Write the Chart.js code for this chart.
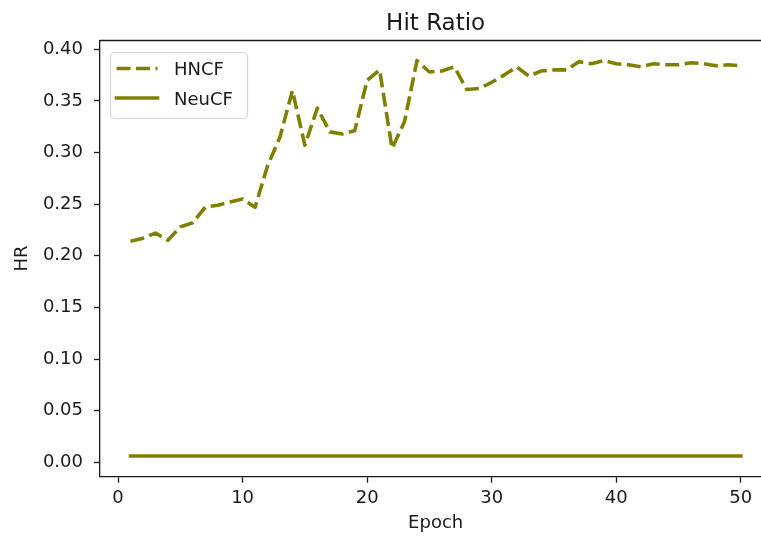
<!DOCTYPE html>
<html>
<head>
<meta charset="utf-8">
<script src="https://cdn.jsdelivr.net/npm/chart.js@4"></script>
<style>
  html, body { margin: 0; padding: 0; background: #fff; overflow: hidden; }
  #wrap { position: absolute; left: 0; top: 0; width: 761px; height: 537px; overflow: hidden; background: #fff; }
  #wrap canvas { position: absolute; left: 0; top: 0; }
</style>
</head>
<body>
<div id="wrap"><canvas id="chart" width="790" height="537"></canvas></div>
<script>
// Training epochs
const epochs = [1, 2, 3, 4, 5, 6, 7, 8, 9, 10,
                11, 12, 13, 14, 15, 16, 17, 18, 19, 20,
                21, 22, 23, 24, 25, 26, 27, 28, 29, 30,
                31, 32, 33, 34, 35, 36, 37, 38, 39, 40,
                41, 42, 43, 44, 45, 46, 47, 48, 49, 50];

// Hit ratio per epoch
const hncf = [0.214, 0.217, 0.222, 0.215, 0.228, 0.232, 0.247, 0.249, 0.252, 0.255,
              0.247, 0.287, 0.315, 0.360, 0.307, 0.343, 0.320, 0.318, 0.321, 0.370,
              0.380, 0.304, 0.330, 0.389, 0.378, 0.379, 0.383, 0.361, 0.362, 0.368,
              0.375, 0.383, 0.374, 0.379, 0.380, 0.380, 0.388, 0.386, 0.389, 0.386,
              0.385, 0.383, 0.386, 0.385, 0.385, 0.387, 0.386, 0.384, 0.385, 0.384];

const neucf = [0.006, 0.006, 0.006, 0.006, 0.006, 0.006, 0.006, 0.006, 0.006, 0.006,
               0.006, 0.006, 0.006, 0.006, 0.006, 0.006, 0.006, 0.006, 0.006, 0.006,
               0.006, 0.006, 0.006, 0.006, 0.006, 0.006, 0.006, 0.006, 0.006, 0.006,
               0.006, 0.006, 0.006, 0.006, 0.006, 0.006, 0.006, 0.006, 0.006, 0.006,
               0.006, 0.006, 0.006, 0.006, 0.006, 0.006, 0.006, 0.006, 0.006, 0.006];

const seriesNames = ['HNCF', 'NeuCF'];
const xTicks = [0, 10, 20, 30, 40, 50];
const yTicks = [0.00, 0.05, 0.10, 0.15, 0.20, 0.25, 0.30, 0.35, 0.40];
const chartTitle = 'Hit Ratio';
const xTitle = 'Epoch';
const yTitle = 'HR';

const FONT = "'DejaVu Sans', 'Liberation Sans', sans-serif";
const INK = '#1a1a1a';
const OLIVE = '#808000';
const DASH = [14, 5.5];
const LINE_W = 3.6;

const toPoints = (ys) => epochs.map((e, i) => ({ x: e, y: ys[i] }));

// Top spine of the axes box
const frame = {
  id: 'frame',
  afterDraw(chart) {
    const { ctx, chartArea: a } = chart;
    ctx.save();
    ctx.strokeStyle = INK;
    ctx.lineWidth = 1.3;
    ctx.beginPath();
    ctx.moveTo(a.left, a.top);
    ctx.lineTo(a.right, a.top);
    ctx.stroke();
    ctx.restore();
  }
};

// Title centred over the plotting area
const axesTitle = {
  id: 'axesTitle',
  afterDraw(chart) {
    const { ctx, chartArea: a } = chart;
    ctx.save();
    ctx.fillStyle = INK;
    ctx.font = `23px ${FONT}`;
    ctx.textAlign = 'center';
    ctx.textBaseline = 'alphabetic';
    ctx.fillText(chartTitle, (a.left + a.right) / 2, 29.5);
    ctx.restore();
  }
};

// Legend box in the upper-left corner of the axes
const cornerLegend = {
  id: 'cornerLegend',
  afterDatasetsDraw(chart) {
    const { ctx, chartArea: a } = chart;
    const x0 = a.left + 10.5, y0 = a.top + 12, w = 137, h = 66, r = 4;
    ctx.save();
    ctx.beginPath();
    ctx.moveTo(x0 + r, y0);
    ctx.arcTo(x0 + w, y0, x0 + w, y0 + h, r);
    ctx.arcTo(x0 + w, y0 + h, x0, y0 + h, r);
    ctx.arcTo(x0, y0 + h, x0, y0, r);
    ctx.arcTo(x0, y0, x0 + w, y0, r);
    ctx.closePath();
    ctx.fillStyle = 'rgba(255,255,255,0.8)';
    ctx.fill();
    ctx.strokeStyle = 'rgba(204,204,204,0.8)';
    ctx.lineWidth = 1.2;
    ctx.stroke();

    chart.data.datasets.forEach((ds, i) => {
      const cy = y0 + 16 + i * 29.5;
      ctx.beginPath();
      ctx.strokeStyle = ds.borderColor;
      ctx.lineWidth = ds.borderWidth;
      ctx.lineCap = ds.borderCapStyle;
      ctx.setLineDash(ds.borderDash || []);
      ctx.moveTo(x0 + 6, cy);
      ctx.lineTo(x0 + 47, cy);
      ctx.stroke();
      ctx.setLineDash([]);
      ctx.fillStyle = INK;
      ctx.font = `18px ${FONT}`;
      ctx.textAlign = 'left';
      ctx.textBaseline = 'alphabetic';
      ctx.fillText(ds.label, x0 + 63.5, cy + 6.8);
    });
    ctx.restore();
  }
};

new Chart(document.getElementById('chart'), {
  type: 'line',
  data: {
    datasets: [
      {
        label: seriesNames[0],
        data: toPoints(hncf),
        borderColor: OLIVE,
        borderWidth: LINE_W,
        borderDash: DASH,
        borderCapStyle: 'butt',
        borderJoinStyle: 'round',
        pointRadius: 0,
        tension: 0,
        fill: false
      },
      {
        label: seriesNames[1],
        data: toPoints(neucf),
        borderColor: OLIVE,
        borderWidth: LINE_W,
        borderCapStyle: 'square',
        borderJoinStyle: 'round',
        pointRadius: 0,
        tension: 0,
        fill: false
      }
    ]
  },
  options: {
    responsive: false,
    animation: false,
    devicePixelRatio: 1,
    // the canvas is wider than its frame, so the right side of the axes box is cut off
    layout: { padding: { top: 40.5, right: 18.7, bottom: 0, left: 0 } },
    plugins: {
      legend: { display: false },
      title: { display: false },
      tooltip: { enabled: false }
    },
    scales: {
      x: {
        type: 'linear',
        min: -1.45,
        max: 52.45,
        afterBuildTicks: (s) => { s.ticks = xTicks.map(v => ({ value: v })); },
        afterFit: (s) => { s.height = 60.3; },
        grid: { display: true, drawOnChartArea: false, drawTicks: true, tickLength: 6, tickWidth: 1.3, tickColor: INK },
        border: { display: true, color: INK, width: 1.3 },
        ticks: {
          font: { family: FONT, size: 18 },
          color: INK,
          padding: 5,
          maxRotation: 0,
          autoSkip: false,
          callback: (v) => String(v)
        },
        title: {
          display: true,
          text: xTitle,
          color: INK,
          font: { family: FONT, size: 18 },
          padding: { top: 0, bottom: 2.6 }
        }
      },
      y: {
        type: 'linear',
        min: -0.014,
        max: 0.4085,
        afterBuildTicks: (s) => { s.ticks = yTicks.map(v => ({ value: v })); },
        afterFit: (s) => { s.width = 100; },
        grid: { display: true, drawOnChartArea: false, drawTicks: true, tickLength: 6, tickWidth: 1.3, tickColor: INK },
        border: { display: true, color: INK, width: 1.3 },
        ticks: {
          font: { family: FONT, size: 18 },
          color: INK,
          padding: 11,
          autoSkip: false,
          callback: (v) => Number(v).toFixed(2)
        },
        title: {
          display: true,
          text: yTitle,
          color: INK,
          font: { family: FONT, size: 18 },
          padding: { top: 11.7, bottom: 0 }
        }
      }
    }
  },
  plugins: [frame, axesTitle, cornerLegend]
});
</script>
</body>
</html>
